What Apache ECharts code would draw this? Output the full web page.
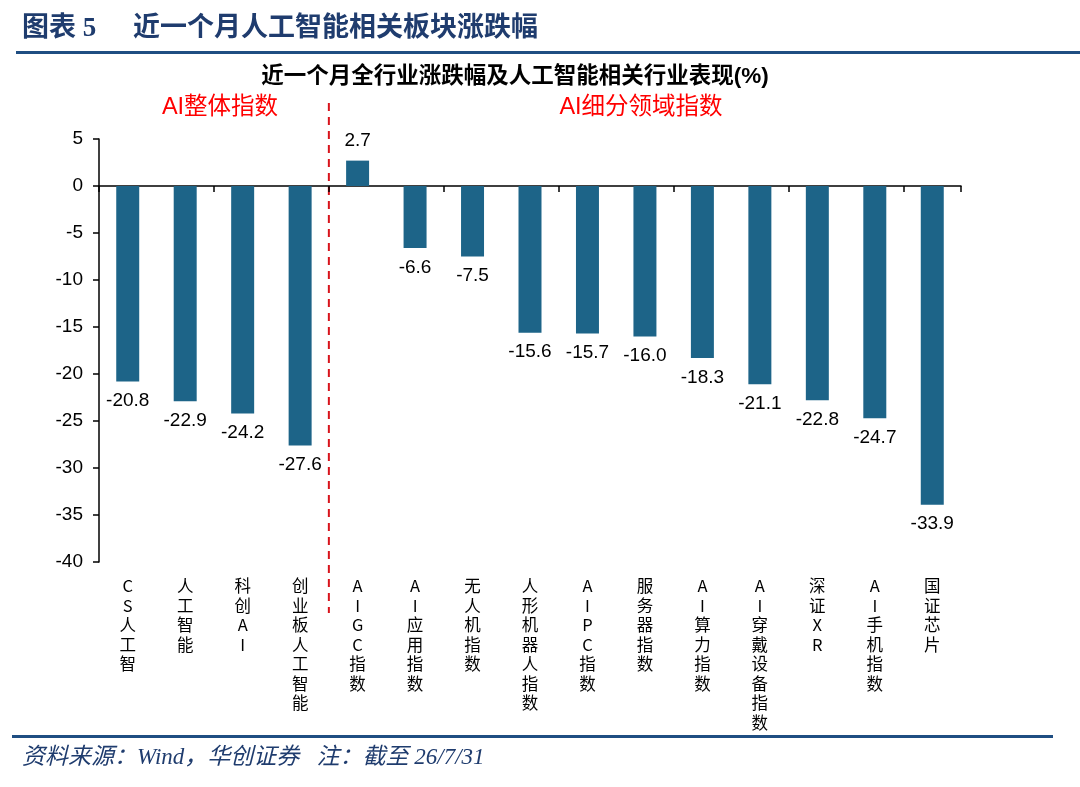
<!DOCTYPE html>
<html>
<head>
<meta charset="utf-8">
<script src="https://cdn.jsdelivr.net/npm/echarts@6/dist/echarts.min.js"></script>
<style>
  html, body { margin: 0; padding: 0; background: #fff; }
  #main { width: 1080px; height: 787px; }
</style>
</head>
<body>
<div id="main"></div>
<script>
var categories = ['CS人工智', '人工智能', '科创AI', '创业板人工智能', 'AIGC指数', 'AI应用指数', '无人机指数',
    '人形机器人指数', 'AIPC指数', '服务器指数', 'AI算力指数', 'AI穿戴设备指数', '深证XR', 'AI手机指数', '国证芯片'];
var changes = [-20.8, -22.9, -24.2, -27.6, 2.7, -6.6, -7.5, -15.6, -15.7, -16.0, -18.3, -21.1, -22.8, -24.7, -33.9];
var groupNames = ['AI整体指数', 'AI细分领域指数'];
var yTicks = { min: -40, max: 5, interval: 5 };

var chart = echarts.init(document.getElementById('main'));

var serifFont = '"Liberation Serif", "Noto Sans CJK SC", serif';
var sansFont = '"Liberation Sans", Arial, "Noto Sans CJK SC", sans-serif';

chart.setOption({
    backgroundColor: '#fff',
    animation: false,
    grid: {
        left: 99,
        right: 119,
        top: 139,
        bottom: 225
    },
    xAxis: [
        {
            // labels at the bottom of the plot
            type: 'category',
            data: categories,
            position: 'bottom',
            axisLine: { show: false, onZero: false },
            axisTick: { show: false },
            axisLabel: {
                interval: 0,
                margin: 14,
                color: '#000',
                fontSize: 16.5,
                lineHeight: 19.5,
                verticalAlign: 'top',
                fontFamily: '"Noto Sans CJK SC", sans-serif',
                formatter: function (v) {
                    return v.split('').join('\n');
                }
            }
        },
        {
            // zero line with downward ticks
            type: 'category',
            data: categories,
            position: 'top',
            axisLine: { show: true, onZero: true, lineStyle: { color: '#000', width: 1.5 } },
            axisTick: { show: true, inside: true, length: 6, lineStyle: { color: '#000', width: 1.5 } },
            axisLabel: { show: false }
        }
    ],
    yAxis: {
        type: 'value',
        min: yTicks.min,
        max: yTicks.max,
        interval: yTicks.interval,
        splitLine: { show: false },
        axisLine: { show: true, lineStyle: { color: '#000', width: 1.5 } },
        axisTick: { show: true, length: 6, lineStyle: { color: '#000', width: 1.5 } },
        axisLabel: {
            color: '#000',
            fontSize: 19,
            margin: 16,
            fontFamily: sansFont
        }
    },
    series: [
        {
            type: 'bar',
            xAxisIndex: 0,
            data: changes.map(function (v) {
                return v >= 0 ? { value: v, label: { position: 'top' } } : v;
            }),
            barWidth: '40%',
            itemStyle: { color: '#1D6488' },
            label: {
                show: true,
                color: '#000',
                fontSize: 19,
                fontFamily: sansFont,
                distance: 10,
                formatter: function (p) { return p.value.toFixed(1); },
                position: 'bottom'
            }
        }
    ]
});

// separator between the two groups of categories
var xa = chart.convertToPixel({ xAxisIndex: 0 }, categories[3]);
var xb = chart.convertToPixel({ xAxisIndex: 0 }, categories[4]);
var sepX = (xa + xb) / 2;

chart.setOption({
    graphic: [
        {
            type: 'text', left: 22, top: 16,
            style: {
                text: '图表 5', fill: '#1F3C6E', fontSize: 27, fontWeight: 'bold', fontFamily: serifFont
            }
        },
        {
            type: 'text', left: 133, top: 16,
            style: {
                text: '近一个月人工智能相关板块涨跌幅', fill: '#1F3C6E', fontSize: 27, fontWeight: 'bold', fontFamily: serifFont
            }
        },
        {
            type: 'rect', shape: { x: 16, y: 51, width: 1064, height: 3 },
            style: { fill: '#1F4E82' }
        },
        {
            type: 'text', x: 515, y: 77,
            style: {
                text: '近一个月全行业涨跌幅及人工智能相关行业表现(%)',
                fill: '#000', fontSize: 22.5, fontWeight: 'bold',
                fontFamily: sansFont, align: 'center', verticalAlign: 'middle'
            }
        },
        {
            type: 'text', x: 220, y: 108,
            style: {
                text: groupNames[0], fill: '#FF0000', fontSize: 23.5,
                fontFamily: sansFont, align: 'center', verticalAlign: 'middle'
            }
        },
        {
            type: 'text', x: 641, y: 108,
            style: {
                text: groupNames[1], fill: '#FF0000', fontSize: 23.5,
                fontFamily: sansFont, align: 'center', verticalAlign: 'middle'
            }
        },
        {
            type: 'line', shape: { x1: sepX, y1: 103, x2: sepX, y2: 613 },
            style: { stroke: '#D8141C', lineWidth: 2, lineDash: [8, 6] }
        },
        {
            type: 'rect', shape: { x: 12, y: 735, width: 1041, height: 3 },
            style: { fill: '#1F4E82' }
        },
        {
            type: 'text', left: 22, top: 746,
            style: {
                text: '资料来源：Wind，华创证券   注：截至 26/7/31',
                fill: '#1F3C6E', fontSize: 23, fontStyle: 'italic', fontFamily: serifFont
            }
        }
    ]
});
</script>
</body>
</html>
